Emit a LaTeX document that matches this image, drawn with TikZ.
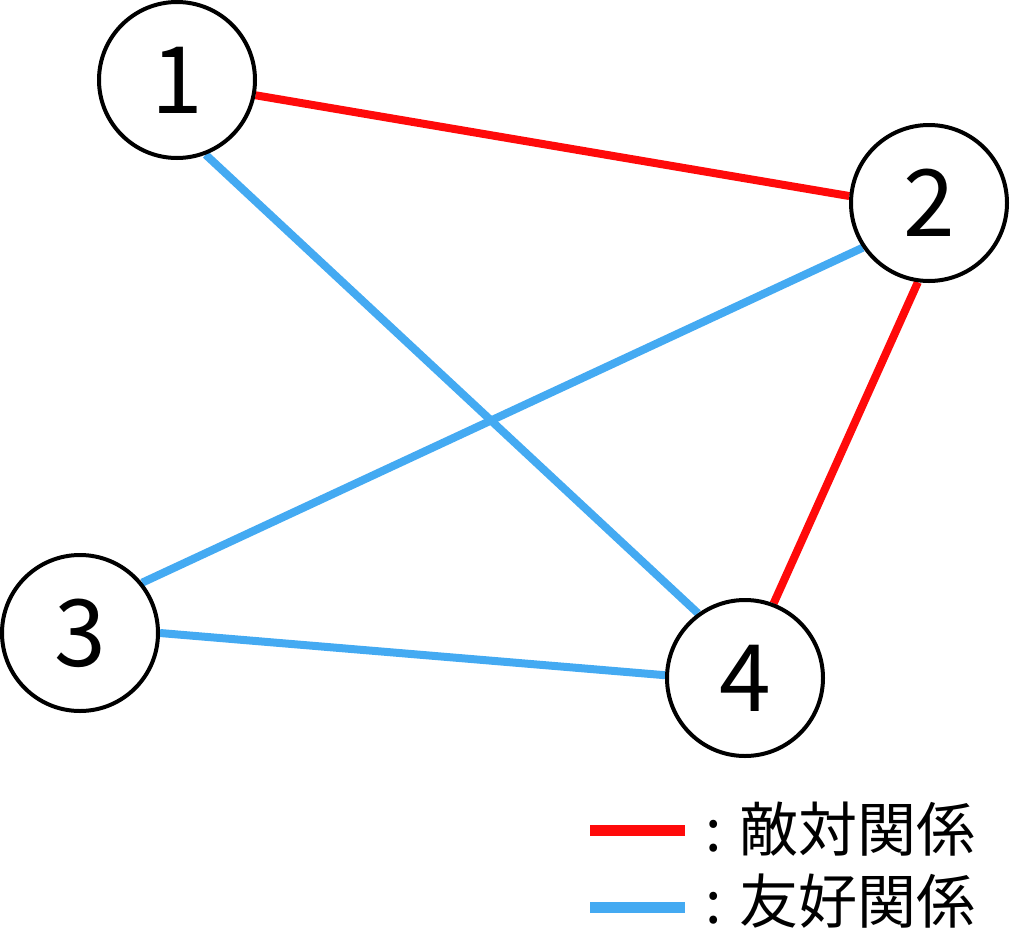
\documentclass[tikz,border=0pt]{standalone}
\usepackage{fontspec}
\setmainfont{Noto Sans CJK JP}
\usetikzlibrary{positioning,backgrounds}
\definecolor{enemyred}{RGB}{255,10,10}
\definecolor{friendblue}{RGB}{68,170,242}
\tikzset{
  person/.style={circle, draw=black, fill=white, line width=4pt, minimum size=156pt,
    inner sep=0pt, font=\fontsize{93}{93}\selectfont},
  enemy/.style={draw=enemyred, line width=8pt},
  friend/.style={draw=friendblue, line width=8pt},
  legend/.style={anchor=base west, inner sep=0pt, font=\fontsize{59}{59}\selectfont}
}

\begin{document}
\begin{tikzpicture}[x=1pt, y=-1pt]
  \useasboundingbox (0,0) rectangle (1010,946);

  \node[person] (p1) at (177,80) {1};
  \node[person] (p2) at (929,203) {2};
  \node[person] (p3) at (80,633) {3};
  \node[person] (p4) at (745,678) {4};

  \begin{scope}[on background layer]
    \draw[enemy]  (p1.349) -- (p2.175);
    \draw[enemy]  (p2.262) -- (p4.69);
    \draw[friend] (p1.291) -- (p4.126);
    \draw[friend] (p2.214) -- (p3.39);
    \draw[friend] (p3.0.5) -- (p4.178.5);
  \end{scope}

  % legend
  \coordinate (r1) at (590,830);
  \coordinate (r2) at (685,830);
  \coordinate (b1) at (590,907);
  \coordinate (b2) at (685,907);
  \draw[enemyred, line width=11pt]  (r1) -- (r2);
  \draw[friendblue, line width=11pt] (b1) -- (b2);
  \node[legend] (enemytext)  at (705,851) {: 敵対関係};
  \node[legend] (friendtext) at (705,923) {: 友好関係};
\end{tikzpicture}
\end{document}
